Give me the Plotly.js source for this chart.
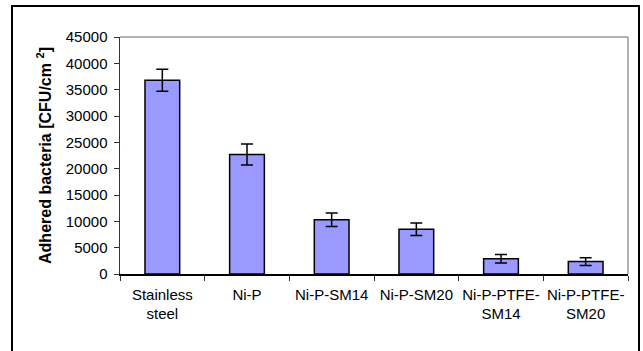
<!DOCTYPE html>
<html>
<head>
<meta charset="utf-8">
<script src="https://cdn.plot.ly/plotly-3.0.1.min.js"></script>
<style>
html,body{margin:0;padding:0;background:#fff;}
#chart{width:643px;height:351px;}
</style>
</head>
<body>
<div id="chart"></div>
<script>
const categories = ["Stainless<br>steel", "Ni-P", "Ni-P-SM14", "Ni-P-SM20", "Ni-P-PTFE-<br>SM14", "Ni-P-PTFE-<br>SM20"];
const adhered = [36800, 22700, 10300, 8500, 2900, 2350];
const errors = [2100, 2000, 1300, 1200, 800, 750];
const yTicks = [0, 5000, 10000, 15000, 20000, 25000, 30000, 35000, 40000, 45000];

const L = 120, R = 628, T = 37, B = 274, W = 643, H = 351;
const pw = R - L, ph = B - T;
const px = v => (v - L) / pw;
const py = v => (B - v) / ph;

const trace = {
  type: 'bar',
  x: categories,
  y: adhered,
  marker: {color: '#9999FF', line: {color: '#000000', width: 1.5}},
  error_y: {type: 'data', array: errors, visible: true, color: '#000000', thickness: 1.5, width: 6}
};

const layout = {
  width: W, height: H,
  margin: {l: L, r: W - R, t: T, b: H - B},
  paper_bgcolor: 'rgba(0,0,0,0)',
  plot_bgcolor: 'rgba(0,0,0,0)',
  bargap: 0.59,
  showlegend: false,
  font: {family: 'Liberation Sans, Arial, sans-serif', size: 15, color: '#000'},
  xaxis: {
    type: 'category',
    tickson: 'boundaries',
    tickangle: 0,
    ticks: 'outside', ticklen: 5, tickcolor: '#333', tickwidth: 1,
    showline: true, linecolor: '#000', linewidth: 1.5,
    showgrid: false,
    tickfont: {size: 15},
    ticklabelstandoff: 6
  },
  yaxis: {
    range: [0, 45000],
    tickvals: yTicks,
    ticktext: yTicks.map(String),
    ticks: 'outside', ticklen: 5, tickcolor: '#333', tickwidth: 1,
    showline: true, linecolor: '#333', linewidth: 1.5,
    showgrid: false, zeroline: false,
    tickfont: {size: 15},
    ticklabelstandoff: 3,
    title: {text: 'Adhered bacteria [CFU/cm\u00a0<sup>2</sup>]', font: {size: 16, family: 'Liberation Sans, Arial, sans-serif', weight: 'bold'}, standoff: 10}
  },
  shapes: [
    {type: 'line', xref: 'paper', yref: 'paper', x0: 0, x1: 1, y0: 1, y1: 1, line: {color: '#999', width: 1.5}},
    {type: 'line', xref: 'paper', yref: 'paper', x0: 1, x1: 1, y0: 0, y1: 1, line: {color: '#999', width: 1.5}},
    {type: 'rect', xref: 'paper', yref: 'paper', x0: px(12), x1: px(639), y0: py(6), y1: py(360), line: {color: '#000', width: 2}, fillcolor: 'rgba(0,0,0,0)'}
  ]
};

Plotly.newPlot('chart', [trace], layout, {displayModeBar: false, staticPlot: true});
</script>
</body>
</html>
